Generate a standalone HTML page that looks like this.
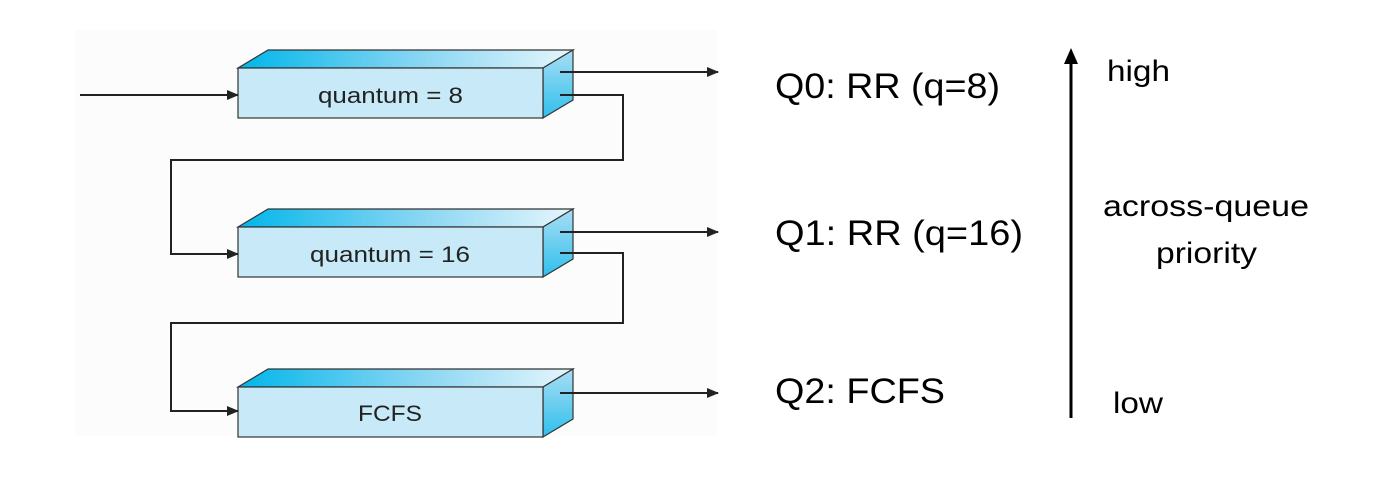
<!DOCTYPE html>
<html><head><style>
html,body{margin:0;padding:0;background:#fff;}
svg{display:block}
</style></head><body>
<svg width="1384" height="486" viewBox="0 0 1384 486" xmlns="http://www.w3.org/2000/svg">
<defs>
<linearGradient id="top" x1="0" x2="1" y1="0" y2="0">
<stop offset="0" stop-color="#00b6ea"/><stop offset="0.5" stop-color="#7fd3f2"/><stop offset="1" stop-color="#e6f6fc"/>
</linearGradient>
<linearGradient id="side" x1="0" x2="0" y1="0" y2="1">
<stop offset="0" stop-color="#a9def4"/><stop offset="1" stop-color="#2fbfec"/>
</linearGradient>
<marker id="ah" markerWidth="12" markerHeight="10" refX="11" refY="5" orient="auto" markerUnits="userSpaceOnUse">
<path d="M0,0 L12,5 L0,10 Z" fill="#222"/>
</marker>
</defs>
<rect x="75" y="30" width="642" height="406" fill="#fcfcfc"/>
<g stroke="#333" stroke-width="1.2">
<g>
<polygon points="238,68 268,50 573,50 543,68" fill="url(#top)"/>
<polygon points="543,68 573,50 573,100 543,118" fill="url(#side)"/>
<rect x="238" y="68" width="305" height="50" fill="#c7e9f8"/>
</g>
<g transform="translate(0,159)">
<polygon points="238,68 268,50 573,50 543,68" fill="url(#top)"/>
<polygon points="543,68 573,50 573,100 543,118" fill="url(#side)"/>
<rect x="238" y="68" width="305" height="50" fill="#c7e9f8"/>
</g>
<g transform="translate(0,319)">
<polygon points="238,68 268,50 573,50 543,68" fill="url(#top)"/>
<polygon points="543,68 573,50 573,100 543,118" fill="url(#side)"/>
<rect x="238" y="68" width="305" height="50" fill="#c7e9f8"/>
</g>
</g>
<g stroke="#222" stroke-width="2" fill="none" marker-end="url(#ah)">
<line x1="80" y1="95" x2="238" y2="95"/>
<line x1="560" y1="72" x2="718" y2="72"/>
<polyline points="560,95 623,95 623,160 171,160 171,254 238,254"/>
<line x1="560" y1="232" x2="718" y2="232"/>
<polyline points="560,253 623,253 623,323 171,323 171,411 238,411"/>
<line x1="560" y1="393" x2="718" y2="393"/>
</g>
<g font-family="Liberation Sans, sans-serif" fill="#222" font-size="22">
<text x="318" y="103" textLength="145" lengthAdjust="spacingAndGlyphs">quantum = 8</text>
<text x="310" y="262" textLength="160" lengthAdjust="spacingAndGlyphs">quantum = 16</text>
<text x="358" y="421" textLength="64" lengthAdjust="spacingAndGlyphs">FCFS</text>
</g>
<g font-family="Liberation Sans, sans-serif" fill="#000" font-size="35">
<text x="775" y="98" textLength="225" lengthAdjust="spacingAndGlyphs">Q0: RR (q=8)</text>
<text x="775" y="245" textLength="248" lengthAdjust="spacingAndGlyphs">Q1: RR (q=16)</text>
<text x="775" y="403" textLength="170" lengthAdjust="spacingAndGlyphs">Q2: FCFS</text>
</g>
<line x1="1071" y1="418" x2="1071" y2="62" stroke="#000" stroke-width="3"/>
<path d="M1064,64 L1071,48 L1078,64 Z" fill="#000"/>
<g font-family="Liberation Sans, sans-serif" fill="#000" font-size="30">
<text x="1107" y="81" textLength="63" lengthAdjust="spacingAndGlyphs">high</text>
<text x="1103" y="216" textLength="206" lengthAdjust="spacingAndGlyphs">across-queue</text>
<text x="1156" y="263" textLength="101" lengthAdjust="spacingAndGlyphs">priority</text>
<text x="1113" y="413" textLength="50" lengthAdjust="spacingAndGlyphs">low</text>
</g>
</svg>
</body></html>
